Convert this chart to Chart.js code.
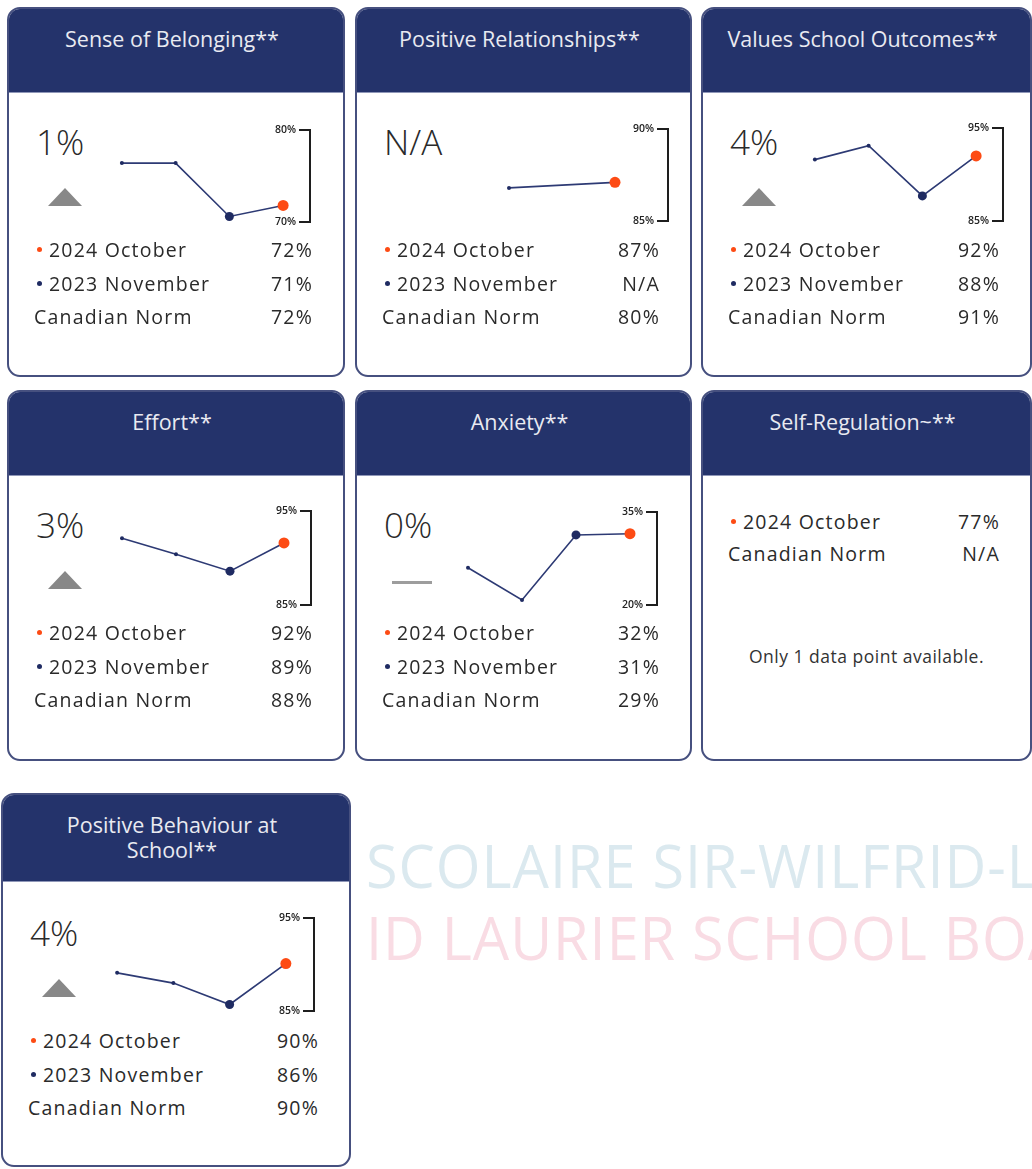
<!DOCTYPE html>
<html>
<head>
<meta charset="utf-8">
<script src="https://cdn.jsdelivr.net/npm/chart.js@4.4.1/dist/chart.umd.min.js"></script>
<style>
html,body{margin:0;padding:0;width:1032px;height:1169px;overflow:hidden;background:#fff;font-family:'Open Sans',sans-serif;color:#2e2e2e;}
.card{position:absolute;box-sizing:border-box;border:2px solid #46507f;border-radius:13px;background:#fff;overflow:hidden;}
.head{position:absolute;left:0;top:0;right:0;background:#24336b;color:#e9eaf1;text-align:center;font-size:21.5px;line-height:25px;padding:17px 8px 0 0;box-sizing:border-box;white-space:pre-line;border-bottom:1px solid #8f97b8;}
.big{position:absolute;font-size:35px;line-height:35px;font-weight:300;color:#2a2a2a;}
.tri{position:absolute;width:0;height:0;border-left:17.5px solid transparent;border-right:17.5px solid transparent;border-bottom:18px solid #888;}
.dash{position:absolute;width:40px;height:3px;background:#9d9d9d;}
.rows{position:absolute;font-size:19.5px;line-height:33.5px;letter-spacing:1.2px;color:#2a2a2a;}
.row{position:relative;white-space:nowrap;}
.row .val{position:absolute;right:0;top:0;}
.dot{display:inline-block;width:5px;height:5px;border-radius:50%;margin:0 7px 0 3px;vertical-align:middle;position:relative;top:-2px;}
.dot.o{background:#fd4b14;}
.dot.n{background:#1f2b62;}
.note{position:absolute;left:0;right:0;text-align:center;font-size:17.5px;line-height:17.5px;letter-spacing:0.5px;color:#333;}
canvas{position:absolute;}
.wm{position:absolute;left:366px;font-size:60px;line-height:60px;font-weight:500;white-space:nowrap;transform-origin:0 0;transform:scaleX(0.96);letter-spacing:1px;}
</style>
</head>
<body>
<div class="wm" style="top:835px;color:#dbe9ef;">SCOLAIRE SIR-WILFRID-LAURIER</div>
<div class="wm" style="top:907px;color:#f9dce4;">ID LAURIER SCHOOL BOARD</div>
<script>
// ---- data ----
const cardTitles = ['Sense of Belonging**','Positive Relationships**','Values School Outcomes**','Effort**','Anxiety**','Self-Regulation~**','Positive Behaviour at\nSchool**'];
const changeTexts = ['1%','N/A','4%','3%','0%',null,'4%'];
const trendMarks = ['up','none','up','up','flat',null,'up'];
const rowLabels = ['2024 October','2023 November','Canadian Norm'];
const oct2024Texts = ['72%','87%','92%','92%','32%','77%','90%'];
const nov2023Texts = ['71%','N/A','88%','89%','31%',null,'86%'];
const normTexts = ['72%','80%','91%','88%','29%','N/A','90%'];
const noteText = 'Only 1 data point available.';

const belongingLabels = ['Survey 1','Survey 2','2023 November','2024 October'];
const belongingValues = [76.4, 76.4, 70.6, 71.8];
const belongingTicks = [70, 80];

const relationshipsLabels = ['Survey 1','2024 October'];
const relationshipsValues = [86.8, 87.1];
const relationshipsTicks = [85, 90];

const outcomesLabels = ['Survey 1','Survey 2','2023 November','2024 October'];
const outcomesValues = [91.6, 93.1, 87.7, 92.0];
const outcomesTicks = [85, 95];

const effortLabels = ['Survey 1','Survey 2','2023 November','2024 October'];
const effortValues = [92.1, 90.4, 88.6, 91.6];
const effortTicks = [85, 95];

const anxietyLabels = ['Survey 1','Survey 2','2023 November','2024 October'];
const anxietyValues = [26.0, 20.8, 31.3, 31.5];
const anxietyTicks = [20, 35];

const behaviourLabels = ['Survey 1','Survey 2','2023 November','2024 October'];
const behaviourValues = [89.1, 88.0, 85.7, 90.1];
const behaviourTicks = [85, 95];

const series = [
  [belongingLabels, belongingValues, belongingTicks],
  [relationshipsLabels, relationshipsValues, relationshipsTicks],
  [outcomesLabels, outcomesValues, outcomesTicks],
  [effortLabels, effortValues, effortTicks],
  [anxietyLabels, anxietyValues, anxietyTicks],
  null,
  [behaviourLabels, behaviourValues, behaviourTicks]
];

// ---- layout ----
const boxes = [
  {x:7,  y:7,   w:338, h:370, head:84, s:0, chart:{L:88, T:123, W:215, H:92}},
  {x:355,y:7,   w:337, h:370, head:84, s:0, chart:{L:101,T:122, W:212, H:92}},
  {x:701,y:7,   w:331, h:370, head:84, s:0, chart:{L:87, T:121, W:215, H:93}},
  {x:7,  y:390, w:338, h:371, head:84, s:0, chart:{L:88, T:121, W:216, H:94}},
  {x:355,y:390, w:337, h:371, head:84, s:0, chart:{L:86, T:122, W:216, H:93}},
  {x:701,y:390, w:331, h:371, head:84, s:0, chart:null},
  {x:1,  y:793, w:350, h:374, head:87, s:5, chart:{L:88, T:125, W:225, H:93}}
];

Chart.defaults.font.family = "'Open Sans', sans-serif";
const PAD = 12;

function drawSpark(canvas, labels, values, ticks) {
  const radii = labels.map(l => l === '2024 October' ? 5.5 : (l === '2023 November' ? 4.5 : 2));
  const colors = labels.map(l => l === '2024 October' ? '#fd4b14' : '#1f2b62');
  return new Chart(canvas, {
    type: 'line',
    data: {labels: labels, datasets: [{
      data: values, borderColor: '#2d3a74', borderWidth: 1.6, tension: 0,
      pointRadius: radii, pointBackgroundColor: colors, pointBorderColor: colors,
      pointBorderWidth: 0, clip: false, spanGaps: true
    }]},
    options: {
      responsive: false, animation: false, events: [],
      layout: {padding: {left: PAD, right: 4, top: PAD, bottom: PAD}},
      plugins: {legend: {display: false}, tooltip: {enabled: false}},
      scales: {
        x: {display: false, offset: true},
        y: {
          position: 'right', min: ticks[0], max: ticks[1],
          afterBuildTicks: s => { s.ticks = ticks.map(v => ({value: v})); },
          afterFit: s => { s.width = 2; },
          border: {display: true, color: '#1e1e1e', width: 2},
          grid: {drawOnChartArea: false, drawTicks: true, tickLength: -11, color: '#1e1e1e', lineWidth: 2},
          ticks: {mirror: true, padding: -14, color: '#222',
                  font: {size: 10.5, weight: '600'}, callback: v => v + '%'}
        }
      }
    }
  });
}

function el(tag, cls, parent, style, text) {
  const e = document.createElement(tag);
  if (cls) e.className = cls;
  if (style) e.style.cssText = style;
  if (text != null) e.textContent = text;
  parent.appendChild(e);
  return e;
}

boxes.forEach((b, i) => {
  const card = el('div', 'card', document.body, `left:${b.x}px;top:${b.y}px;width:${b.w}px;height:${b.h}px;`);
  el('div', 'head', card, `height:${b.head}px;`, cardTitles[i]);
  const iw = b.w - 4;
  if (series[i]) {
    el('div', 'big', card, `left:27px;top:${115 + b.s}px;`, changeTexts[i]);
    if (trendMarks[i] === 'up') el('div', 'tri', card, `left:39px;top:${179 + b.s}px;`);
    if (trendMarks[i] === 'flat') el('div', 'dash', card, `left:35px;top:${189 + b.s}px;`);
    const c = b.chart;
    const cv = el('canvas', null, card, `left:${c.L - 2 - PAD}px;top:${c.T - 2 - PAD}px;`);
    cv.width = c.W + PAD + 2 + 4;
    cv.height = c.H + 2 * PAD;
    drawSpark(cv, series[i][0], series[i][1], series[i][2]);
    const rows = el('div', 'rows', card, `left:25px;width:${iw - 25 - 30}px;top:${224 + b.s}px;`);
    const r1 = el('div', 'row', rows);
    el('span', 'dot o', r1); r1.appendChild(document.createTextNode(rowLabels[0]));
    el('span', 'val', r1, null, oct2024Texts[i]);
    const r2 = el('div', 'row', rows);
    el('span', 'dot n', r2); r2.appendChild(document.createTextNode(rowLabels[1]));
    el('span', 'val', r2, null, nov2023Texts[i]);
    const r3 = el('div', 'row', rows, null, rowLabels[2]);
    el('span', 'val', r3, null, normTexts[i]);
  } else {
    const rows = el('div', 'rows', card, `left:25px;width:${iw - 25 - 30}px;top:114px;line-height:32px;`);
    const r1 = el('div', 'row', rows);
    el('span', 'dot o', r1); r1.appendChild(document.createTextNode(rowLabels[0]));
    el('span', 'val', r1, null, oct2024Texts[i]);
    const r3 = el('div', 'row', rows, null, rowLabels[2]);
    el('span', 'val', r3, null, normTexts[i]);
    el('div', 'note', card, 'top:256px;', noteText);
  }
});
</script>
</body>
</html>
